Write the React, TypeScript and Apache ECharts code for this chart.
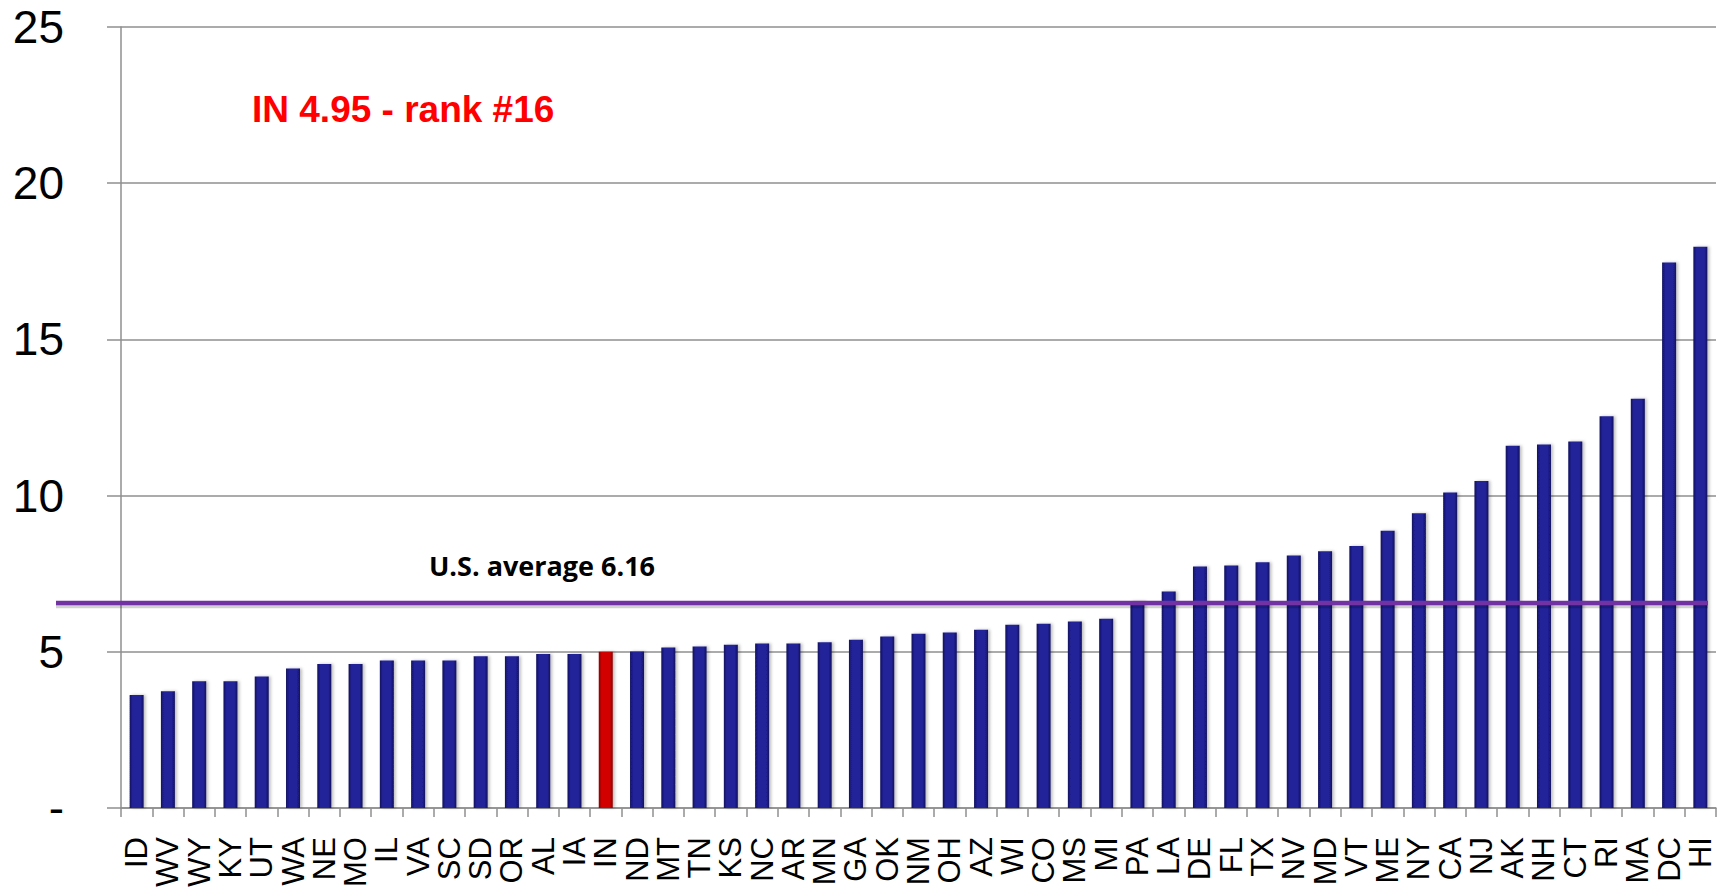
import React, { useEffect, useRef } from "react";
import * as echarts from "echarts";

const states = [
  "ID", "WV", "WY", "KY", "UT", "WA", "NE", "MO", "IL", "VA", "SC", "SD", "OR",
  "AL", "IA", "IN", "ND", "MT", "TN", "KS", "NC", "AR", "MN", "GA", "OK", "NM",
  "OH", "AZ", "WI", "CO", "MS", "MI", "PA", "LA", "DE", "FL", "TX", "NV", "MD",
  "VT", "ME", "NY", "CA", "NJ", "AK", "NH", "CT", "RI", "MA", "DC", "HI",
];

const rates = [
  3.62, 3.74, 4.06, 4.06, 4.21, 4.47, 4.61, 4.61, 4.72, 4.72, 4.72, 4.86, 4.86,
  4.93, 4.93, 5.0, 5.01, 5.14, 5.17, 5.23, 5.27, 5.27, 5.31, 5.39, 5.49, 5.58,
  5.62, 5.71, 5.87, 5.9, 5.97, 6.06, 6.63, 6.93, 7.73, 7.76, 7.87, 8.08, 8.22,
  8.39, 8.88, 9.44, 10.1, 10.47, 11.6, 11.64, 11.73, 12.54, 13.1, 17.46, 17.97,
];

const highlightState = "IN";
const highlightLabel = "IN 4.95 - rank #16";
const averageLineValue = 6.56;
const averageLabel = "U.S. average 6.16";
const yMin = 0;
const yMax = 25;
const yInterval = 5;

const GRID = "#8f8f8f";

function barGradient(edge: string, mid: string) {
  return new echarts.graphic.LinearGradient(0, 0, 1, 0, [
    { offset: 0, color: edge },
    { offset: 0.22, color: mid },
    { offset: 0.78, color: mid },
    { offset: 1, color: edge },
  ]);
}

export default function App() {
  const ref = useRef<HTMLDivElement>(null);

  useEffect(() => {
    const chart = echarts.init(ref.current!, null, { renderer: "svg" });
    const blue = barGradient("#12125e", "#222299");
    const red = barGradient("#8a0000", "#d30000");

    chart.setOption({
      animation: false,
      backgroundColor: "#ffffff",
      grid: { left: 121, right: 7, top: 27, bottom: 79, containLabel: false },
      xAxis: {
        type: "category",
        data: states,
        boundaryGap: true,
        axisLine: { show: true, lineStyle: { color: GRID, width: 1.5 } },
        axisTick: { show: true, length: 9, lineStyle: { color: GRID, width: 1.5 } },
        axisLabel: {
          interval: 0,
          rotate: 90,
          margin: 29,
          fontSize: 31,
          color: "#000",
          fontFamily: "Liberation Sans, Arial, sans-serif",
        },
        splitLine: { show: false },
      },
      yAxis: {
        type: "value",
        min: yMin,
        max: yMax,
        interval: yInterval,
        axisLine: { show: true, lineStyle: { color: GRID, width: 1.5 } },
        axisTick: { show: true, length: 14, lineStyle: { color: GRID, width: 1.5 } },
        splitLine: { show: true, lineStyle: { color: GRID, width: 1.5 } },
        axisLabel: {
          margin: 57,
          fontSize: 46,
          color: "#000",
          fontFamily: "Liberation Sans, Arial, sans-serif",
          formatter: (v: number) => (v === 0 ? "-" : String(v)),
        },
      },
      series: [
        {
          type: "bar",
          barWidth: 14,
          data: rates.map((v, i) =>
            states[i] === highlightState
              ? { value: v, itemStyle: { color: red } }
              : { value: v, itemStyle: { color: blue } }
          ),
          itemStyle: {
            shadowColor: "rgba(0,0,0,0.25)",
            shadowBlur: 3,
            shadowOffsetX: 2,
          },
        },
      ],
    });

    const yPx = chart.convertToPixel({ yAxisIndex: 0 }, averageLineValue) as number;
    const lineW = 4.5;

    chart.setOption({
      graphic: [
        {
          type: "rect",
          shape: { x: 56, y: yPx - lineW / 2 + 3, width: 1652, height: lineW },
          style: { fill: "rgba(0,0,0,0.18)" },
          z: 99,
        },
        {
          type: "rect",
          shape: { x: 56, y: yPx - lineW / 2, width: 1652, height: lineW },
          style: { fill: "#7332a4" },
          z: 100,
        },
        {
          type: "text",
          x: 542,
          y: yPx - 24,
          style: {
            text: averageLabel,
            fill: "#000",
            fontSize: 27,
            fontWeight: "bold",
            fontFamily: "Open Sans, Lato, sans-serif",
            textAlign: "center",
            textVerticalAlign: "bottom",
          },
          z: 100,
        },
        {
          type: "text",
          x: 252,
          y: 109.5,
          style: {
            text: highlightLabel,
            fill: "#ff0000",
            fontSize: 37,
            fontWeight: "bold",
            fontFamily: "Liberation Sans, Arial, sans-serif",
            textAlign: "left",
            textVerticalAlign: "middle",
          },
          z: 100,
        },
      ],
    });

    return () => chart.dispose();
  }, []);

  return (
    <div
      ref={ref}
      style={{ position: "absolute", left: 0, top: 0, width: 1723, height: 890 }}
    />
  );
}
